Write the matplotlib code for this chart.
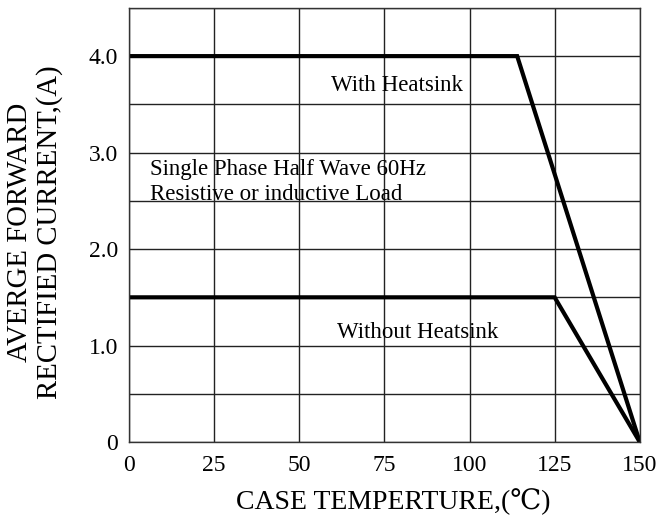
import matplotlib
matplotlib.use("Agg")
import matplotlib.pyplot as plt
from matplotlib.ticker import MultipleLocator

plt.rcParams['font.family'] = ['Liberation Serif', 'DejaVu Serif']

with_x = [0, 114, 150]
with_y = [4.0, 4.0, 0.0]
without_x = [0, 125, 150]
without_y = [1.5, 1.5, 0.0]
xticks = [0, 25, 50, 75, 100, 125, 150]
yticks = [0, 1.0, 2.0, 3.0, 4.0]
ytick_labels = ["0", "1.0", "2.0", "3.0", "4.0"]

fig = plt.figure(figsize=(6.59, 5.25), dpi=100)
ax = fig.add_axes([0.1958, 0.158, 0.775, 0.827])
ax.set_xlim(0, 150)
ax.set_ylim(0, 4.5)
ax.xaxis.set_minor_locator(MultipleLocator(25))
ax.yaxis.set_minor_locator(MultipleLocator(0.5))
ax.set_xticks(xticks)
ax.set_xticklabels([str(t) for t in xticks])
ax.set_yticks(yticks)
ax.set_yticklabels(ytick_labels)
ax.grid(True, which='both', color='#222222', linewidth=1.0)
ax.set_axisbelow(True)
ax.tick_params(which='both', length=0, labelsize=17)
ax.tick_params(axis='x', pad=9)
ax.tick_params(axis='y', pad=8)
for s in ax.spines.values():
    s.set_color('#333333')
    s.set_linewidth(1.0)

ax.plot(with_x, with_y, color='black', linewidth=3.0, solid_joinstyle='miter')
ax.plot(without_x, without_y, color='black', linewidth=3.0, solid_joinstyle='miter')

ax.text(59.3, 3.70, "With Heatsink", fontsize=16.5, va='center', ha='left')
ax.text(6.2, 2.83, "Single Phase Half Wave 60Hz", fontsize=16.5, va='center', ha='left')
ax.text(6.2, 2.57, "Resistive or inductive Load", fontsize=16.5, va='center', ha='left')
ax.text(61, 1.14, "Without Heatsink", fontsize=16.5, va='center', ha='left')

fig.text(393 / 659, 1 - 502 / 525, "CASE TEMPERTURE,(\u2103)", fontsize=20,
         ha='center', va='center')
fig.text(35 / 659, 1 - 232 / 525, "AVERGE FORWARD\nRECTIFIED CURRENT,(A)", fontsize=20.7,
         rotation=90, ha='center', va='center', multialignment='center', linespacing=1.12)

fig.savefig("out.png", dpi=100)
